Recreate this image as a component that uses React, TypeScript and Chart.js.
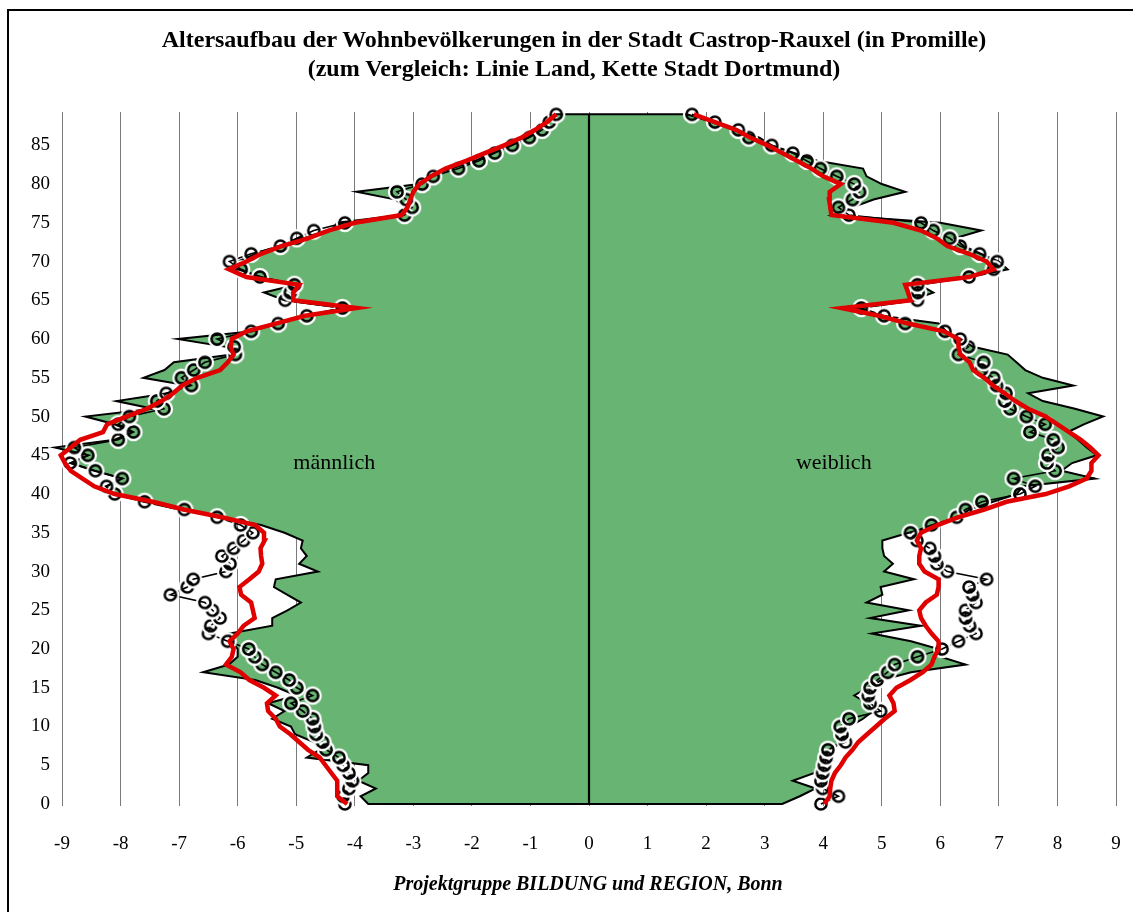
import React, { useEffect, useRef } from "react";
import { Chart, registerables } from "chart.js";

Chart.register(...registerables);

// ---------- data ----------
const AGES = [
  0, 1, 2, 3, 4, 5, 6, 7, 8, 9, 10, 11, 12, 13, 14, 15, 16, 17, 18, 19,
  20, 21, 22, 23, 24, 25, 26, 27, 28, 29, 30, 31, 32, 33, 34, 35, 36, 37, 38, 39,
  40, 41, 42, 43, 44, 45, 46, 47, 48, 49, 50, 51, 52, 53, 54, 55, 56, 57, 58, 59,
  60, 61, 62, 63, 64, 65, 66, 67, 68, 69, 70, 71, 72, 73, 74, 75, 76, 77, 78, 79,
  80, 81, 82, 83, 84, 85, 86, 87, 88, 89,
];

const X_TICKS = [-9, -8, -7, -6, -5, -4, -3, -2, -1, 0, 1, 2, 3, 4, 5, 6, 7, 8, 9];
const Y_TICKS = [0, 5, 10, 15, 20, 25, 30, 35, 40, 45, 50, 55, 60, 65, 70, 75, 80, 85];

const TITLE_LINES = [
  "Altersaufbau der Wohnbevölkerungen in der Stadt Castrop-Rauxel (in Promille)",
  "(zum Vergleich: Linie Land, Kette Stadt Dortmund)",
];
const FOOTER = "Projektgruppe BILDUNG und REGION, Bonn";
const SIDE_LABELS = ["männlich", "weiblich"];

// Castrop-Rauxel (green area), male (negative) per age 0..89
const MALE_CITY = [
  -3.77, -3.9, -3.64, -3.94, -3.77, -3.77, -4.82, -4.6, -4.7, -5.02,
  -5.09, -5.41, -5.2, -5.48, -5.0, -5.31, -5.7, -6.59, -6.15, -6.0,
  -6.0, -6.1, -6.14, -5.41, -5.41, -5.15, -4.92, -5.15, -5.38, -5.35,
  -4.63, -4.95, -4.82, -4.92, -4.89, -5.2, -5.6, -6.3, -7.0, -7.6,
  -8.1, -8.25, -7.97, -8.45, -8.85, -8.55, -9.12, -8.1, -7.8, -8.1,
  -8.6, -7.45, -8.07, -7.2, -6.85, -7.61, -7.25, -7.09, -6.1, -6.2,
  -7.02, -5.75, -5.35, -4.85, -4.2, -5.2, -5.55, -5.0, -5.6, -6.0,
  -6.0, -5.7, -5.3, -4.95, -4.4, -4.3, -3.2, -3.15, -3.3, -3.97,
  -2.9, -2.75, -2.35, -1.95, -1.65, -1.35, -1.05, -0.85, -0.7, -0.56,
];

// Castrop-Rauxel (green area), female per age 0..89
const FEMALE_CITY = [
  3.3, 3.6, 3.87, 3.48, 3.85, 3.95, 4.0, 4.1, 4.3, 4.35,
  4.45, 4.68, 4.85, 4.75, 4.53, 4.75, 5.0, 5.5, 6.43, 6.0,
  5.97, 5.5, 4.83, 5.67, 4.8, 5.46, 4.74, 5.01, 4.98, 5.55,
  5.04, 5.19, 5.04, 5.01, 5.01, 5.46, 6.0, 6.3, 6.5, 6.9,
  7.3, 7.41, 8.64, 8.07, 8.25, 8.67, 8.5, 8.35, 8.18, 8.45,
  8.78, 8.3, 7.75, 7.5, 8.27, 7.75, 7.45, 7.3, 7.15, 6.56,
  6.35, 6.1, 5.97, 5.0, 4.6, 5.52, 5.88, 5.65, 6.5, 7.15,
  7.0, 6.7, 6.4, 6.25, 6.7, 6.0, 4.14, 4.5, 4.86, 5.4,
  5.0, 4.74, 4.68, 3.9, 3.5, 3.12, 2.91, 2.5, 2.1, 1.67,
];

// Land (red line), male
const MALE_LAND = [
  -4.13, -4.3, -4.3, -4.3, -4.4, -4.5, -4.6, -4.8, -4.95, -5.1,
  -5.28, -5.35, -5.48, -5.5, -5.35, -5.55, -5.8, -5.95, -6.2, -6.1,
  -6.07, -6.14, -6.0, -5.9, -5.71, -5.74, -5.77, -5.94, -5.97, -5.8,
  -5.64, -5.58, -5.6, -5.61, -5.54, -5.55, -5.7, -6.27, -6.92, -7.45,
  -8.1, -8.45, -8.65, -8.85, -8.95, -9.02, -8.85, -8.69, -8.3, -8.23,
  -7.9, -7.55, -7.3, -7.1, -6.95, -6.69, -6.3, -6.17, -6.07, -6.12,
  -6.1, -5.85, -5.35, -4.85, -3.97, -5.05, -5.05, -4.95, -5.85, -6.15,
  -5.85, -5.6, -5.25, -4.8, -4.45, -4.0, -3.2, -3.1, -3.05, -3.0,
  -2.9, -2.7, -2.45, -2.1, -1.78, -1.45, -1.15, -0.92, -0.72, -0.56,
];

// Land (red line), female
const FEMALE_LAND = [
  4.02, 4.11, 4.12, 4.14, 4.2, 4.3, 4.38, 4.5, 4.6, 4.75,
  4.9, 5.05, 5.22, 5.2, 5.13, 5.25, 5.49, 5.7, 5.85, 5.9,
  5.97, 5.97, 5.85, 5.75, 5.67, 5.64, 5.75, 5.94, 5.97, 5.97,
  5.73, 5.64, 5.64, 5.67, 5.6, 5.67, 5.95, 6.3, 6.75, 7.13,
  7.8, 8.2, 8.5, 8.58, 8.58, 8.7, 8.56, 8.4, 8.2, 8.0,
  7.8, 7.5, 7.28, 7.1, 6.9, 6.75, 6.56, 6.5, 6.34, 6.31,
  6.31, 6.06, 5.45, 4.95, 4.32, 5.49, 5.45, 5.4, 6.49, 6.91,
  6.79, 6.49, 6.12, 5.94, 5.67, 5.2, 4.14, 4.12, 4.1, 4.11,
  4.3, 4.0, 3.8, 3.55, 3.3, 3.05, 2.75, 2.51, 2.15, 1.79,
];

// Stadt Dortmund (chain of circles), male
const MALE_DORTMUND = [
  -4.17, -4.2, -4.1, -4.04, -4.1, -4.2, -4.27, -4.49, -4.55, -4.66,
  -4.69, -4.72, -4.89, -5.09, -4.72, -4.99, -5.12, -5.35, -5.58, -5.71,
  -5.81, -6.17, -6.5, -6.46, -6.3, -6.43, -6.56, -7.15, -6.86, -6.76,
  -6.2, -6.13, -6.27, -6.07, -5.9, -5.74, -5.95, -6.35, -6.91, -7.59,
  -8.1, -8.24, -7.97, -8.43, -8.86, -8.56, -8.79, -8.04, -7.78, -8.04,
  -7.85, -7.26, -7.38, -7.22, -6.79, -6.96, -6.75, -6.56, -6.04, -6.06,
  -6.35, -5.77, -5.31, -4.82, -4.21, -5.19, -5.1, -5.03, -5.62, -5.94,
  -6.14, -5.77, -5.27, -4.99, -4.7, -4.17, -3.15, -3.02, -3.12, -3.28,
  -2.85, -2.66, -2.23, -1.88, -1.61, -1.31, -1.02, -0.8, -0.68, -0.56,
];

// Stadt Dortmund (chain of circles), female
const FEMALE_DORTMUND = [
  3.96, 4.26, 3.99, 3.96, 3.99, 4.02, 4.05, 4.08, 4.38, 4.32,
  4.29, 4.44, 4.98, 4.8, 4.77, 4.8, 4.92, 5.1, 5.22, 5.61,
  6.03, 6.31, 6.61, 6.5, 6.43, 6.43, 6.61, 6.55, 6.49, 6.79,
  6.12, 5.94, 5.9, 5.82, 5.6, 5.49, 5.85, 6.28, 6.43, 6.71,
  7.36, 7.62, 7.25, 7.96, 7.82, 7.84, 8.01, 7.93, 7.53, 7.79,
  7.47, 7.19, 7.1, 7.12, 6.96, 6.91, 6.7, 6.74, 6.31, 6.48,
  6.34, 6.08, 5.4, 5.04, 4.65, 5.61, 5.62, 5.61, 6.49, 6.91,
  6.97, 6.67, 6.34, 6.16, 5.88, 5.67, 4.44, 4.26, 4.5, 4.62,
  4.53, 4.23, 3.95, 3.72, 3.48, 3.12, 2.73, 2.55, 2.15, 1.76,
];

const LABEL_POS = [
  { x: -4.35, y: 44 },
  { x: 4.18, y: 44 },
];

// ---------- styling ----------
const SERIF = '"Liberation Serif", "Times New Roman", Times, serif';
const GREEN = "#67b473";
const RED = "#e00000";

function makeRingMarker(): HTMLCanvasElement {
  const size = 22;
  const c = document.createElement("canvas");
  c.width = size;
  c.height = size;
  const g = c.getContext("2d")!;
  const m = size / 2;
  g.lineWidth = 2.4;
  g.strokeStyle = "#ffffff";
  g.beginPath();
  g.arc(m, m, 8.0, 0, Math.PI * 2);
  g.stroke();
  g.lineWidth = 2.5;
  g.strokeStyle = "#000000";
  g.beginPath();
  g.arc(m, m, 5.6, 0, Math.PI * 2);
  g.stroke();
  return c;
}

export default function App() {
  const ref = useRef<HTMLCanvasElement | null>(null);

  useEffect(() => {
    if (!ref.current) return;
    const marker = makeRingMarker();
    const pts = (vals: number[]) => AGES.map((a, i) => ({ x: vals[i], y: a }));
    const poly = (vals: number[]) => [
      { x: 0, y: AGES[0] },
      ...pts(vals),
      { x: 0, y: AGES[AGES.length - 1] },
    ];

    const areaDs = (vals: number[]) => ({
      data: poly(vals),
      borderColor: "#000",
      borderWidth: 2,
      backgroundColor: GREEN,
      fill: "shape",
      pointRadius: 0,
      order: 10,
      clip: false,
    });
    const chainDs = (vals: number[]) => ({
      data: pts(vals),
      borderColor: "#000",
      borderWidth: 1.6,
      pointStyle: marker,
      pointRadius: 8,
      fill: false,
      order: 4,
      clip: false,
    });
    const landDs = (vals: number[]) => ({
      data: pts(vals),
      borderColor: RED,
      borderWidth: 4.5,
      pointRadius: 0,
      fill: false,
      order: 1,
      clip: false,
    });

    const labelPlugin = {
      id: "sideLabels",
      afterDatasetsDraw(chart: any) {
        const { ctx, scales } = chart;
        ctx.save();
        ctx.font = `22px ${SERIF}`;
        ctx.fillStyle = "#000";
        ctx.textAlign = "center";
        ctx.textBaseline = "middle";
        SIDE_LABELS.forEach((t, i) => {
          ctx.fillText(
            t,
            scales.x.getPixelForValue(LABEL_POS[i].x),
            scales.y.getPixelForValue(LABEL_POS[i].y)
          );
        });
        ctx.restore();
      },
    };

    const chart = new Chart(ref.current, {
      type: "line",
      data: {
        datasets: [
          areaDs(MALE_CITY),
          areaDs(FEMALE_CITY),
          {
            data: [
              { x: 0, y: AGES[0] },
              { x: 0, y: AGES[AGES.length - 1] },
            ],
            borderColor: "#000",
            borderWidth: 2.2,
            pointRadius: 0,
            fill: false,
            order: 8,
            clip: false,
          },
          chainDs(MALE_DORTMUND),
          chainDs(FEMALE_DORTMUND),
          landDs(MALE_LAND),
          landDs(FEMALE_LAND),
        ] as any,
      },
      options: {
        indexAxis: "y",
        responsive: false,
        animation: false,
        events: [],
        layout: { padding: { left: 0, right: 17, top: 112, bottom: 58 } },
        elements: { line: { tension: 0 } },
        plugins: {
          legend: { display: false },
          tooltip: { enabled: false },
          title: { display: false },
        },
        scales: {
          x: {
            type: "linear",
            position: "bottom",
            min: -9,
            max: 9,
            afterBuildTicks: (s: any) => {
              s.ticks = X_TICKS.map((v) => ({ value: v }));
            },
            afterFit: (s: any) => {
              s.height = 50;
              s.paddingLeft = 0;
              s.paddingRight = 0;
            },
            grid: { color: "#7a7a7a", lineWidth: 1, drawTicks: true, tickLength: 2 },
            border: { display: false },
            ticks: {
              padding: 27,
              color: "#000",
              font: { family: SERIF, size: 19 },
              maxRotation: 0,
            },
          },
          y: {
            type: "linear",
            position: "left",
            min: 0,
            max: 89.3,
            afterBuildTicks: (s: any) => {
              s.ticks = Y_TICKS.map((v) => ({ value: v }));
            },
            afterFit: (s: any) => {
              s.width = 62;
              s.paddingTop = 0;
              s.paddingBottom = 0;
            },
            grid: { display: false },
            border: { display: false },
            ticks: {
              padding: 4,
              color: "#000",
              font: { family: SERIF, size: 19 },
            },
          },
        },
      } as any,
      plugins: [labelPlugin],
    });
    return () => chart.destroy();
  }, []);

  return (
    <div
      style={{
        position: "absolute",
        left: 0,
        top: 0,
        width: 1133,
        height: 912,
        overflow: "hidden",
        background: "#fff",
      }}
    >
      <div
        style={{
          position: "absolute",
          left: 7,
          top: 9,
          width: 1200,
          height: 1000,
          border: "2px solid #000",
        }}
      />
      <canvas
        ref={ref}
        width={1133}
        height={912}
        style={{ position: "absolute", left: 0, top: 0, width: 1133, height: 912 }}
      />
      <div
        style={{
          position: "absolute",
          left: 0,
          top: 25,
          width: 1148,
          textAlign: "center",
          fontFamily: SERIF,
          fontWeight: "bold",
          fontSize: 24,
          lineHeight: "29px",
          color: "#000",
          whiteSpace: "nowrap",
        }}
      >
        {TITLE_LINES.map((l, i) => (
          <div key={i}>{l}</div>
        ))}
      </div>
      <div
        style={{
          position: "absolute",
          left: 0,
          top: 871,
          width: 1176,
          textAlign: "center",
          fontFamily: SERIF,
          fontWeight: "bold",
          fontStyle: "italic",
          fontSize: 20,
          lineHeight: "24px",
          color: "#000",
          whiteSpace: "nowrap",
        }}
      >
        {FOOTER}
      </div>
    </div>
  );
}
